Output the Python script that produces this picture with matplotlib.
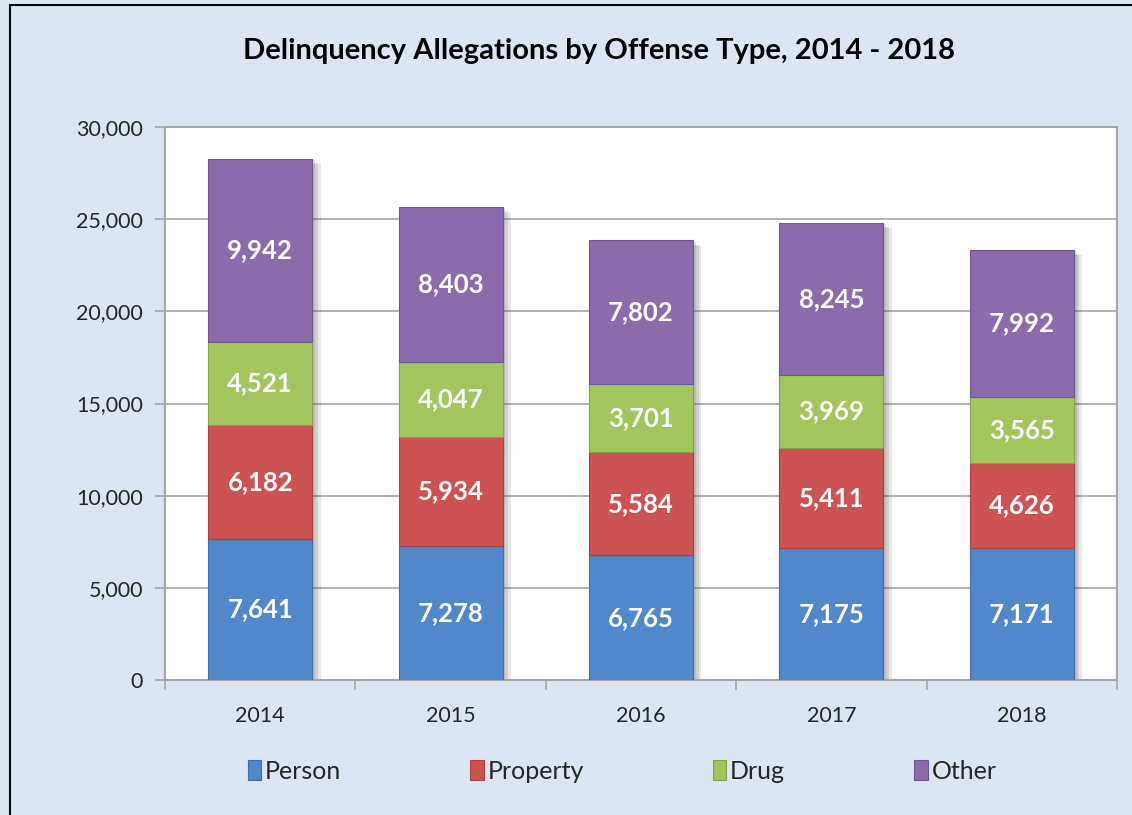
import matplotlib.pyplot as plt
import matplotlib.patheffects as pe
import numpy as np

years = ['2014', '2015', '2016', '2017', '2018']
person = [7641, 7278, 6765, 7175, 7171]
property_ = [6182, 5934, 5584, 5411, 4626]
drug = [4521, 4047, 3701, 3969, 3565]
other = [9942, 8403, 7802, 8245, 7992]

series = [('Person', person, '#5088CB', '#3F6FA8'),
          ('Property', property_, '#CD5352', '#A84241'),
          ('Drug', drug, '#A3C55E', '#84A348'),
          ('Other', other, '#8A6CAC', '#6E5690')]

plt.rcParams['font.family'] = ['Lato', 'DejaVu Sans']

bg = '#DCE6F2'
grid_c = '#A6A6A6'
width = 0.546

fig = plt.figure(figsize=(11.32, 8.15), dpi=100, facecolor=bg)
# outer frame
fig.patches.append(plt.Rectangle((0.009, -0.01), 1.2, 1.004, transform=fig.transFigure,
                                 fill=False, edgecolor='black', linewidth=1.5))

ax = fig.add_axes([0.1458, 0.1656, 0.841, 0.6785])
ax.set_facecolor('white')

x = np.arange(len(years))
total = np.sum([person, property_, drug, other], axis=0)

# soft drop shadow behind each whole stack
shadow_fx = [pe.SimplePatchShadow(offset=(6, -4), alpha=0.12, rho=0.5),
             pe.SimplePatchShadow(offset=(4, -3), alpha=0.15, rho=0.5),
             pe.SimplePatchShadow(offset=(2, -1), alpha=0.15, rho=0.5)]
sh = ax.bar(x, total, width, color='none', edgecolor='none', zorder=2)
for b in sh:
    b.set_facecolor('#888888')
    b.set_path_effects(shadow_fx)

bottom = np.zeros(len(years))
for name, vals, col, ecol in series:
    vals = np.array(vals)
    ax.bar(x, vals, width, bottom=bottom, color=col, label=name,
           edgecolor=ecol, linewidth=0.8, zorder=3)
    for xi, b0, v in zip(x, bottom, vals):
        ax.text(xi, b0 + v / 2, f'{v:,}', ha='center', va='center', color='white',
                fontsize=18.5, fontweight='bold', zorder=4)
    bottom = bottom + vals

ax.set_xlim(-0.5, 4.5)
ax.set_ylim(0, 30000)
ax.set_yticks(np.arange(0, 30001, 5000))
ax.set_yticklabels([f'{v:,}' for v in range(0, 30001, 5000)])
ax.yaxis.grid(True, color=grid_c, linewidth=1.2, zorder=0)
ax.set_axisbelow(True)

ax.set_xticks(np.arange(-0.5, 5, 1))
ax.set_xticklabels([])
ax.set_xticks(x, minor=True)
ax.set_xticklabels(years, minor=True)
ax.tick_params(axis='x', which='minor', length=0, pad=19, labelsize=15.5, labelcolor='#262626')
ax.tick_params(axis='x', which='major', length=7, color=grid_c, width=1.2)
ax.tick_params(axis='y', length=7, color=grid_c, width=1.2, labelsize=15.5,
               labelcolor='#262626', pad=9)
for s in ax.spines.values():
    s.set_color(grid_c)
    s.set_linewidth(1.5)

fig.text(0.5295, 0.937, 'Delinquency Allegations by Offense Type, 2014 - 2018',
         ha='center', va='center', fontsize=21, fontweight='bold', color='black')

ax.legend(loc='center', bbox_to_anchor=(0.48, -0.165), ncol=4, frameon=False,
          fontsize=18, handlelength=0.55, handleheight=0.85, handletextpad=0.15,
          columnspacing=5.15, labelcolor='#262626')

fig.savefig('out.png', dpi=100, facecolor=bg)
